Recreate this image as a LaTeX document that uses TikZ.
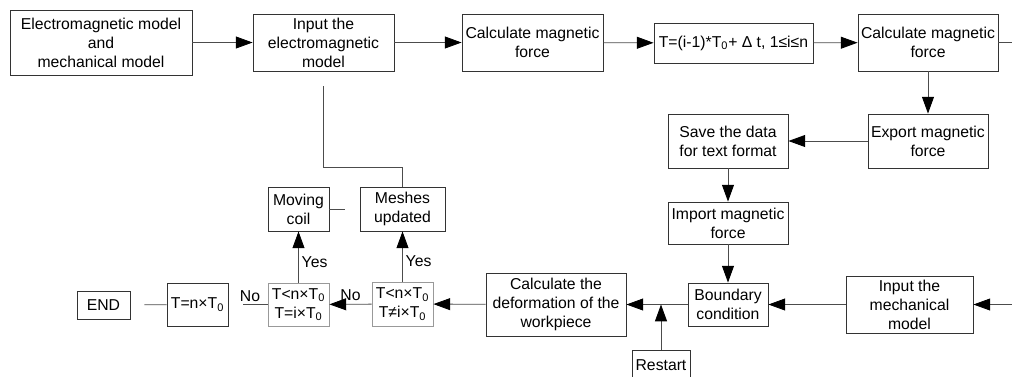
\documentclass[tikz,border=0pt]{standalone}
\usepackage{fontspec}
\setmainfont{Liberation Sans}
\usetikzlibrary{arrows.meta}

\begin{document}
\begin{tikzpicture}[
		box/.style={
			draw=black!80,
			line width=0.6pt,
			align=center,
			inner sep=0pt,
			font=\fontsize{11.2}{13.6}\selectfont
		},
		test/.style={
			box,
			draw=black!40
		},
		size/.style 2 args={
			minimum width=#1cm,
			minimum height=#2cm
		},
		arrow/.style={
			-{Triangle[length=0.42cm,width=0.3cm,color=black]},
			draw=black!70,
			line width=0.6pt
		},
		line/.style={
			draw=black!70,
			line width=0.6pt
		},
		lbl/.style={
			font=\fontsize{11.2}{13.6}\selectfont,
			inner sep=2pt
		}
		]
		
		\useasboundingbox (0,0) rectangle (25.3,-9.4);
		
		% Modelo electromagnético
		\node[box, size={4.55}{1.625}] (models) at (2.525,-1.0625) {Electromagnetic model\\and\\mechanical model};
		\node[box, size={3.525}{1.425}] (inem) at (8.0875,-1.0625) {Input the\\electromagnetic\\model};
		\node[box, size={3.525}{1.425}] (calcA) at (13.3125,-1.0625) {Calculate magnetic\\force};
		\node[box, size={3.975}{1.0}] (tstep) at (18.3375,-1.075) {T=(i-1)*T\textsubscript{0}+ Δ t, 1≤i≤n};
		\node[box, size={3.5}{1.425}] (calcB) at (23.2,-1.0625) {Calculate magnetic\\force};
		
		% Transferência da força
		\node[box, size={3.0}{1.35}] (export) at (23.2,-3.525) {Export magnetic\\force};
		\node[box, size={3.0}{1.35}] (save) at (18.2,-3.525) {Save the data\\for text format};
		\node[box, size={3.0}{1.05}] (import) at (18.2,-5.575) {Import magnetic\\force};
		
		% Modelo mecânico
		\node[box, size={2.0}{1.075}] (bound) at (18.2,-7.6125) {Boundary\\condition};
		\node[box, size={3.175}{1.425}] (mech) at (22.7375,-7.6125) {Input the\\mechanical\\model};
		\node[box, size={3.5}{1.575}] (deform) at (13.9,-7.6125) {Calculate the\\deformation of the\\workpiece};
		\node[box, size={1.45}{0.75}] (restart) at (16.525,-9.125) {Restart};
		
		% Testes
		\node[test, size={1.525}{1.1}] (testA) at (10.0625,-7.6) {T<n×T\textsubscript{0}\\T≠i×T\textsubscript{0}};
		\node[test, size={1.525}{1.075}] (testB) at (7.4625,-7.6125) {T<n×T\textsubscript{0}\\T=i×T\textsubscript{0}};
		\node[box, size={2.125}{1.1}] (mesh) at (10.0625,-5.225) {Meshes\\updated};
		\node[box, size={1.525}{1.1}] (coil) at (7.4625,-5.225) {Moving\\coil};
		\node[box, size={1.525}{1.075}] (tfinal) at (4.9375,-7.6125) {T=n×T\textsubscript{0}};
		\node[box, size={1.325}{0.7}] (fim) at (2.5875,-7.625) {END};
		
		\coordinate (loop) at (26,-1.0625);
		\coordinate (bend) at (10.0625,-4.175);
		
		% Ligações da linha superior
		\draw[arrow] (models) -- (inem);
		\draw[arrow] (inem) -- (calcA);
		\draw[arrow] (calcA) -- (tstep);
		\draw[arrow] (tstep) -- (calcB);
		\draw[arrow] (calcB) -- (loop) |- (mech);
		
		% Ligações da força
		\draw[arrow] (calcB) -- (export);
		\draw[arrow] (export) -- (save);
		\draw[arrow] (save) -- (import);
		\draw[arrow] (import) -- (bound);
		
		% Ligações da linha inferior
		\draw[arrow] (mech) -- (bound);
		\draw[arrow] (bound) -- (deform);
		\draw[arrow] (restart) -- (restart |- bound);
		\draw[arrow] (deform) -- (testA);
		\draw[arrow] (testA) -- node[lbl, above] {No} (testB);
		\draw[arrow] (testA) -- node[lbl, right, pos=0.4] {Yes} (mesh);
		\draw[arrow] (testB) -- node[lbl, right, pos=0.4] {Yes} (coil);
		\draw[line, shorten >=0.375cm] (testB) -- node[lbl, above, pos=0.45] {No} (tfinal);
		\draw[line, shorten >=0.35cm] (tfinal) -- (fim);
		
		% Retorno da malha
		\draw[line, shorten >=0.375cm] (coil) -- (mesh);
		\draw[line, shorten >=0.375cm] (mesh) -- (bend) -| (inem);
		
	\end{tikzpicture}
\end{document}
